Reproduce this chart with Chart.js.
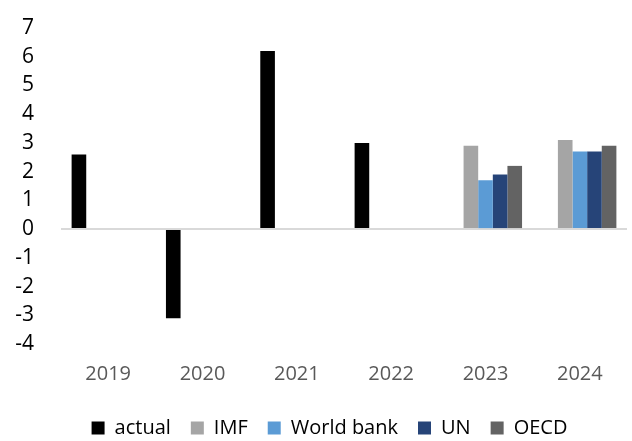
<!DOCTYPE html>
<html>
<head>
<meta charset="utf-8">
<script src="https://cdn.jsdelivr.net/npm/chart.js@4/dist/chart.umd.min.js"></script>
<style>
  html, body { margin: 0; padding: 0; background: #fff; }
  #wrap { position: relative; width: 632px; height: 441px; }
</style>
</head>
<body>
<div id="wrap"><canvas id="growthChart"></canvas></div>
<script>
const years = ['2019', '2020', '2021', '2022', '2023', '2024'];
const actual = [2.6, -3.1, 6.2, 3.0, null, null];
const imf = [null, null, null, null, 2.9, 3.1];
const worldBank = [null, null, null, null, 1.7, 2.7];
const un = [null, null, null, null, 1.9, 2.7];
const oecd = [null, null, null, null, 2.2, 2.9];

const fontFamily = '"Open Sans", "Noto Sans", sans-serif';

const series = [
    { label: 'actual', data: actual, color: '#000000' },
    { label: 'IMF', data: imf, color: '#a5a5a5' },
    { label: 'World bank', data: worldBank, color: '#5b9bd5' },
    { label: 'UN', data: un, color: '#264478' },
    { label: 'OECD', data: oecd, color: '#636363' },
];

// legend keeps wide gaps between items but a shorter block, nudged right a bit
const compactLegend = {
    id: 'compactLegend',
    beforeInit(chart) {
        const fit = chart.legend.fit;
        chart.legend.fit = function () {
            fit.call(this);
            this.height = 43;
        };
    },
    afterLayout(chart) {
        chart.legend.left += 10;
        chart.legend.right += 10;
    },
};

new Chart(document.getElementById('growthChart'), {
    type: 'bar',
    data: {
        labels: years,
        datasets: series.map((s) => ({
            label: s.label,
            data: s.data,
            backgroundColor: s.color,
            borderWidth: 0,
            categoryPercentage: .775,
            barPercentage: 1,
        })),
    },
    plugins: [compactLegend],
    options: {
        responsive: true,
        maintainAspectRatio: false,
        animation: false,
        layout: { padding: { top: 28, right: 5, left: 12, bottom: 0 } },
        plugins: {
            tooltip: { enabled: false },
            legend: {
                position: 'bottom',
                labels: {
                    color: '#000',
                    font: { family: fontFamily, size: 20 },
                    boxWidth: 13,
                    boxHeight: 13,
                    padding: 20,
                },
            },
        },
        scales: {
            x: {
                grid: { display: false },
                border: { display: false },
                ticks: {
                    color: '#595959',
                    font: { family: fontFamily, size: 20 },
                    padding: 10,
                },
                afterFit: (scale) => { scale.height = 54; },
            },
            y: {
                min: -4,
                max: 7,
                border: { display: false },
                grid: {
                    drawTicks: true,
                    tickLength: 25,
                    tickColor: 'rgba(0,0,0,0)',
                    lineWidth: 2,
                    color: (ctx) => (ctx.tick && ctx.tick.value === 0 ? '#d9d9d9' : 'rgba(0,0,0,0)'),
                },
                ticks: {
                    stepSize: 1,
                    autoSkip: false,
                    color: '#000',
                    font: { family: fontFamily, size: 21 },
                    padding: 2,
                },
                afterFit: (scale) => { scale.width = 49; },
            },
        },
    },
});
</script>
</body>
</html>
